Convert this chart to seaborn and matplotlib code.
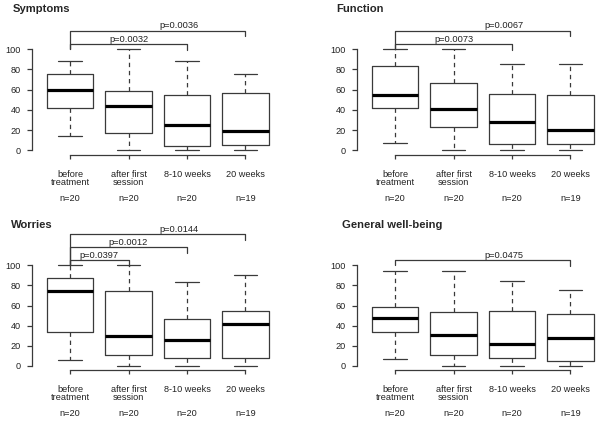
import numpy as np
import pandas as pd
import matplotlib
matplotlib.use("Agg")
import matplotlib.pyplot as plt
import seaborn as sns

# -------------------------------
# DATA
# -------------------------------
timepoints = ["before\ntreatment", "after first\nsession", "8-10 weeks", "20 weeks"]
n_counts = [20, 20, 20, 19]

# five-number summaries: lower whisker, Q1, median, Q3, upper whisker
symptoms_low = [14.5, 0, 0, 0]
symptoms_q1 = [41.4, 17.4, 4.3, 4.9]
symptoms_med = [60, 43.8, 25, 19.4]
symptoms_q3 = [75.7, 58.2, 54.3, 56.6]
symptoms_high = [88, 100, 88, 75.7]

function_low = [6.9, 0, 0, 0]
function_q1 = [41.8, 22.7, 6.6, 5.9]
function_med = [54.6, 40.8, 28.3, 20.4]
function_q3 = [83.2, 66.1, 55.9, 54.3]
function_high = [100, 100, 84.9, 84.9]

worries_low = [6.3, 0, 0, 0]
worries_q1 = [33.8, 11.3, 7.6, 7.6]
worries_med = [74.2, 29.5, 25.5, 41.7]
worries_q3 = [87.1, 74.2, 46.7, 55]
worries_high = [100, 100, 83.8, 90.4]

wellbeing_low = [6.7, 0, 0, 0]
wellbeing_q1 = [33.7, 11.3, 8.3, 5.3]
wellbeing_med = [47.3, 30.3, 22.3, 27.3]
wellbeing_q3 = [59, 53.3, 55, 52]
wellbeing_high = [94.7, 94, 84.3, 75.3]

# significance brackets, lowest first
symptoms_pairs = [(0, 2), (0, 3)]
symptoms_pvals = ["p=0.0032", "p=0.0036"]
function_pairs = [(0, 2), (0, 3)]
function_pvals = ["p=0.0073", "p=0.0067"]
worries_pairs = [(0, 1), (0, 2), (0, 3)]
worries_pvals = ["p=0.0397", "p=0.0012", "p=0.0144"]
wellbeing_pairs = [(0, 3)]
wellbeing_pvals = ["p=0.0475"]

panels = [
    ("Symptoms", [symptoms_low, symptoms_q1, symptoms_med, symptoms_q3, symptoms_high],
     symptoms_pairs, symptoms_pvals),
    ("Function", [function_low, function_q1, function_med, function_q3, function_high],
     function_pairs, function_pvals),
    ("Worries", [worries_low, worries_q1, worries_med, worries_q3, worries_high],
     worries_pairs, worries_pvals),
    ("General well-being", [wellbeing_low, wellbeing_q1, wellbeing_med, wellbeing_q3, wellbeing_high],
     wellbeing_pairs, wellbeing_pvals),
]

# -------------------------------
# STYLE
# -------------------------------
sns.set_style("white")
plt.rcParams["font.family"] = ["Liberation Sans", "DejaVu Sans"]
line_col = "#3a3a3a"

fig = plt.figure(figsize=(6, 4.23), dpi=100)
W, H = 600, 423

# axes boxes in pixels: left, top(of axes), width, height
ax_px = [(31.5, 13.5, 249, 141), (356.5, 13.5, 249, 141),
         (31.5, 230, 249, 140), (356.5, 230, 249, 140)]
title_px = [(13, 11.5), (336, 12.5), (11, 228), (342, 228.3)]

for k, (title, stats, pairs, pvals) in enumerate(panels):
    left, top, w, h = ax_px[k]
    ax = fig.add_axes([left / W, (H - top - h) / H, w / W, h / H])

    # five values per group -> quartiles of these are exactly the summary
    rows = []
    for g, lab in enumerate(timepoints):
        for s in stats:
            rows.append({"time": lab, "score": s[g]})
    df = pd.DataFrame(rows)

    sns.boxplot(data=df, x="time", y="score", order=timepoints, ax=ax,
                width=0.8, whis=(0, 100), fill=False, color=line_col,
                linewidth=0.9,
                medianprops={"color": "black", "linewidth": 2.3},
                whiskerprops={"linestyle": (0, (3.5, 3))})

    ax.set_xlim(-0.66, 3.6)
    ax.set_ylim(-4, 135)
    ax.set_xlabel("")
    ax.set_ylabel("")

    # R-like detached axes
    sns.despine(ax=ax)
    ax.spines["left"].set_bounds(0, 100)
    ax.spines["bottom"].set_bounds(0, 3)
    for sp in ("left", "bottom"):
        ax.spines[sp].set_color(line_col)
        ax.spines[sp].set_linewidth(0.9)
    ax.set_yticks([0, 20, 40, 60, 80, 100])
    ax.tick_params(axis="y", left=True, direction="out", length=3.6, width=0.9,
                   color=line_col, labelsize=6.6, pad=4)
    ax.tick_params(axis="x", bottom=True, direction="out", length=3.1, width=0.9,
                   color=line_col, labelsize=6.6, pad=8)
    for t in ax.get_xticklabels():
        t.set_linespacing(0.8)
        t.set_color("#222222")
    for t in ax.get_yticklabels():
        t.set_color("#222222")

    # sample sizes
    for g, n in enumerate(n_counts):
        ax.text(g, -47.5, f"n={n}", ha="center", va="center", fontsize=6.6,
                color="#222222", clip_on=False)

    # significance brackets
    for level, ((i, j), p) in enumerate(zip(pairs, pvals)):
        yb = 105 + 13 * level
        ax.plot([i, i, j, j], [100, yb, yb, yb - 5.5], color=line_col,
                lw=0.9, clip_on=False)
        # R put the long-span labels right of centre
        lx = (i + j) / 2 if j - i < 3 else 1.87
        ax.text(lx, yb + 0.3, p, ha="center", va="bottom", fontsize=6.7,
                color="#222222", clip_on=False)

    tx, ty = title_px[k]
    fig.text(tx / W, (H - ty) / H, title, fontsize=8.1, fontweight="bold",
             ha="left", va="baseline")

fig.savefig("out.png", dpi=100)
